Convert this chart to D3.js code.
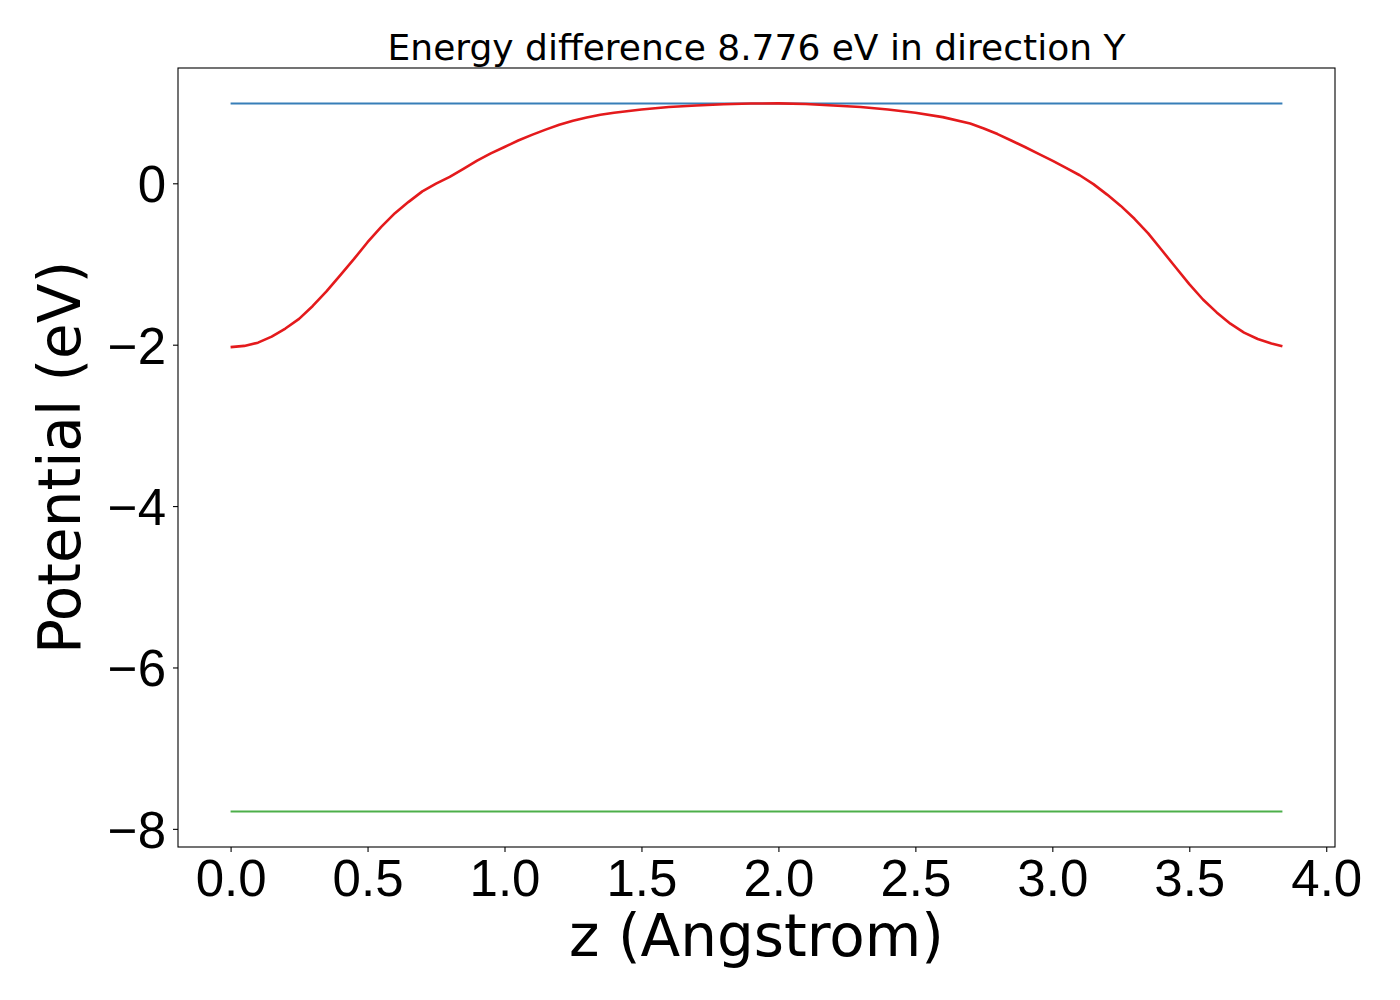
<!DOCTYPE html>
<html>
<head>
<meta charset="utf-8">
<script src="https://cdn.jsdelivr.net/npm/d3@7"></script>
<style>
  body { margin: 0; background: #fff; }
  svg { display: block; font-family: "DejaVu Sans", sans-serif; }
</style>
</head>
<body>
<div id="chart"></div>
<script>
// potential profile along z
const zValues = [0.00, 0.05, 0.10, 0.15, 0.20, 0.25, 0.30, 0.35, 0.40, 0.45,
  0.50, 0.55, 0.60, 0.65, 0.70, 0.75, 0.80, 0.85, 0.90, 0.95,
  1.00, 1.05, 1.10, 1.15, 1.20, 1.25, 1.30, 1.35, 1.40, 1.50,
  1.60, 1.70, 1.80, 1.90, 2.00, 2.10, 2.20, 2.30, 2.40, 2.50,
  2.60, 2.70, 2.75, 2.80, 2.85, 2.90, 2.95, 3.00, 3.05, 3.10,
  3.15, 3.20, 3.25, 3.30, 3.35, 3.40, 3.45, 3.50, 3.55, 3.60,
  3.65, 3.70, 3.75, 3.80, 3.84];
const potential = [-2.03, -2.015, -1.975, -1.90, -1.80, -1.68, -1.52, -1.34, -1.14, -0.94,
  -0.73, -0.54, -0.37, -0.23, -0.10, -0.005, 0.08, 0.18, 0.28, 0.37,
  0.45, 0.53, 0.60, 0.665, 0.725, 0.775, 0.815, 0.85, 0.875, 0.915,
  0.945, 0.965, 0.98, 0.988, 0.99, 0.982, 0.965, 0.945, 0.915, 0.875,
  0.82, 0.74, 0.68, 0.61, 0.53, 0.45, 0.365, 0.28, 0.19, 0.10,
  -0.01, -0.14, -0.28, -0.44, -0.62, -0.83, -1.04, -1.25, -1.44, -1.60,
  -1.74, -1.85, -1.93, -1.985, -2.02];
const vacuumLevel = 0.99;
const bandLevel = -7.786;
const xTicks = [0.0, 0.5, 1.0, 1.5, 2.0, 2.5, 3.0, 3.5, 4.0];
const yTicks = [0, -2, -4, -6, -8];
const title = "Energy difference 8.776 eV in direction Y";

const W = 1400, H = 1000;
const margin = { top: 68, right: 65, bottom: 153, left: 178 };
const width = W - margin.left - margin.right;
const height = H - margin.top - margin.bottom;

const svg = d3.select("#chart").append("svg")
  .attr("width", W)
  .attr("height", H);

const g = svg.append("g")
  .attr("transform", `translate(${margin.left}, ${margin.top})`);

// matplotlib style 5% padding around the data
const zMin = d3.min(zValues), zMax = d3.max(zValues);
const vMin = Math.min(bandLevel, d3.min(potential));
const vMax = Math.max(vacuumLevel, d3.max(potential));
const zPad = (zMax - zMin) * 0.05, vPad = (vMax - vMin) * 0.05;

const xScale = d3.scaleLinear()
  .domain([zMin - zPad, zMax + zPad])
  .range([0, width]);

const yScale = d3.scaleLinear()
  .domain([vMin - vPad, vMax + vPad])
  .range([height, 0]);

// Axes
const xAxisG = g.append("g")
  .attr("transform", `translate(0, ${height})`)
  .call(d3.axisBottom(xScale).tickValues(xTicks).tickFormat(d3.format(".1f"))
    .tickSize(5).tickSizeOuter(0).tickPadding(8));

const yAxisG = g.append("g")
  .call(d3.axisLeft(yScale).tickValues(yTicks).tickFormat(d3.format("d"))
    .tickSize(5).tickSizeOuter(0).tickPadding(7));

[xAxisG, yAxisG].forEach(a => {
  a.select(".domain").remove();
  a.selectAll("line").attr("stroke", "#000").attr("stroke-width", 1.1);
  a.selectAll("text").attr("fill", "#000").style("font-size", "51px");
});
yAxisG.selectAll("text").attr("dy", "0.36em");

// Lines
const line = d3.line()
  .x(d => xScale(d[0]))
  .y(d => yScale(d[1]));

g.append("path")
  .attr("d", line([[zMin, vacuumLevel], [zMax, vacuumLevel]]))
  .attr("fill", "none")
  .attr("stroke", "#377eb8")
  .attr("stroke-width", 2);

g.append("path")
  .attr("d", line([[zMin, bandLevel], [zMax, bandLevel]]))
  .attr("fill", "none")
  .attr("stroke", "#4daf4a")
  .attr("stroke-width", 2);

g.append("path")
  .attr("d", line(zValues.map((z, i) => [z, potential[i]])))
  .attr("fill", "none")
  .attr("stroke", "#e41a1c")
  .attr("stroke-width", 2.6)
  .attr("stroke-linejoin", "round");

// Frame
g.append("rect")
  .attr("width", width)
  .attr("height", height)
  .attr("fill", "none")
  .attr("stroke", "#000")
  .attr("stroke-width", 1.1);

// Labels
svg.append("text")
  .attr("x", margin.left + width / 2)
  .attr("y", 59.5)
  .attr("text-anchor", "middle")
  .style("font-size", "36px")
  .text(title);

svg.append("text")
  .attr("x", margin.left + width / 2)
  .attr("y", 956)
  .attr("text-anchor", "middle")
  .style("font-size", "58px")
  .text("z (Angstrom)");

svg.append("text")
  .attr("transform", `translate(80, ${margin.top + height / 2}) rotate(-90)`)
  .attr("text-anchor", "middle")
  .style("font-size", "58px")
  .text("Potential (eV)");
</script>
</body>
</html>
